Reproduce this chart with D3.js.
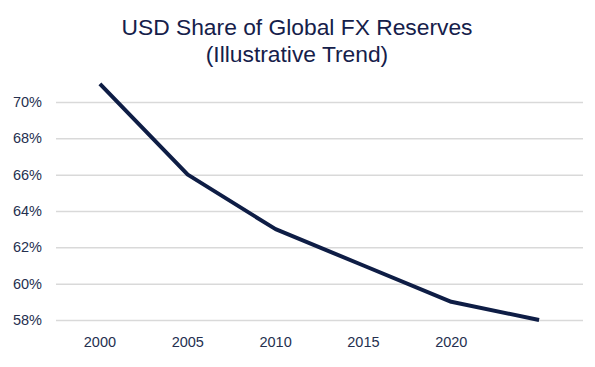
<!DOCTYPE html>
<html><head><meta charset="utf-8">
<script src="https://cdn.jsdelivr.net/npm/d3@7"></script>
<style>body{margin:0;background:#fff}svg{display:block;font-family:"Liberation Sans",Arial,sans-serif}</style>
</head><body><svg id="c" width="595" height="367"></svg>
<script>
const years = ["2000","2005","2010","2015","2020","2025"];
const shares = [71, 66, 63, 61, 59, 58];
const xTickLabels = ["2000","2005","2010","2015","2020"];
const yTicks = [58, 60, 62, 64, 66, 68, 70];
const titleLines = ["USD Share of Global FX Reserves", "(Illustrative Trend)"];

(function () {
const svg = d3.select("#c");
const mLeft = 56, mRight = 583, mTop = 102, mBottom = 320;

const x = d3.scaleBand().domain(years).range([mLeft, mRight]);
const y = d3.scaleLinear().domain([58, 70]).range([mBottom, mTop]);

svg.append("g").selectAll("text").data(titleLines).join("text")
  .attr("x", 297).attr("y", (d,i) => 35 + i*27)
  .attr("text-anchor", "middle").attr("font-size", 22.8).attr("fill", "#15204a")
  .text(d => d);

const yAxis = d3.axisLeft(y).tickValues(yTicks).tickSize(-(mRight-mLeft)).tickFormat(d => d + "%").tickPadding(14);
const gy = svg.append("g").attr("transform", `translate(${mLeft},0)`).call(yAxis);
gy.select(".domain").remove();
gy.selectAll(".tick line").attr("stroke", "#d9d9d9").attr("stroke-width", 1.5);
gy.selectAll(".tick text").attr("font-size", 14.5).attr("fill", "#25304f").attr("font-family", "Liberation Sans, Arial, sans-serif");

const xAxis = d3.axisBottom(x).tickSize(0).tickPadding(17).tickFormat(d => xTickLabels.includes(d) ? d : "");
const gx = svg.append("g").attr("transform", `translate(0,${mBottom})`).call(xAxis);
gx.select(".domain").remove();
gx.selectAll(".tick text").attr("font-size", 14.5).attr("fill", "#25304f").attr("font-family", "Liberation Sans, Arial, sans-serif");

const line = d3.line().x((d,i) => x(years[i]) + x.bandwidth()/2).y(d => y(d));
svg.append("path").datum(shares).attr("d", line)
  .attr("fill", "none").attr("stroke", "#0e1d45").attr("stroke-width", 4)
  .attr("stroke-linejoin", "round");
})();
</script></body></html>
